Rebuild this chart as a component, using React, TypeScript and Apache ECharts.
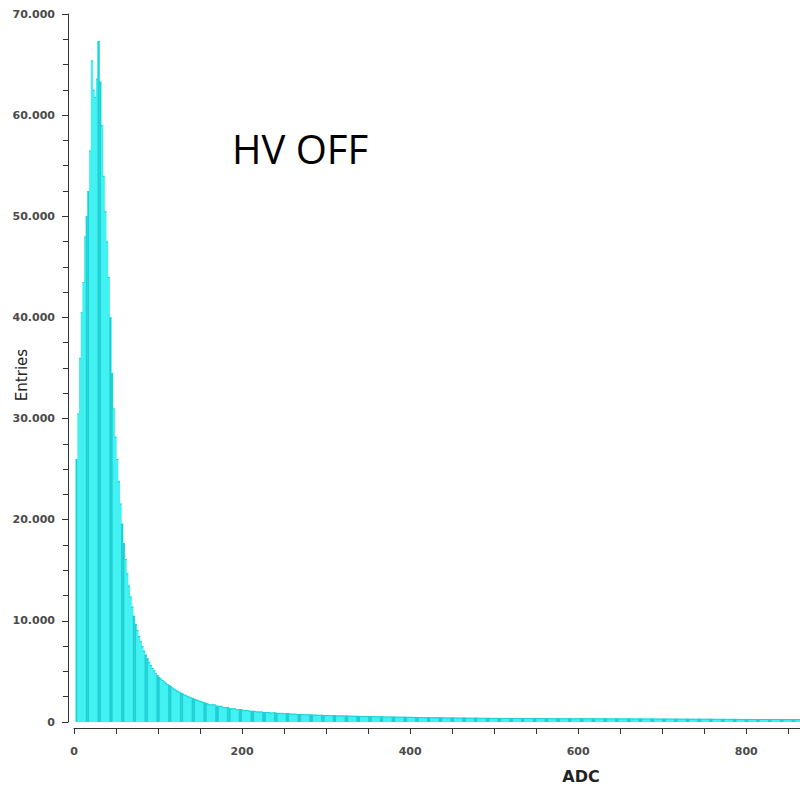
import React, { useEffect, useRef } from "react";
import * as echarts from "echarts";

// Histogram of ADC values (HV OFF)
// Fine bins (2 ADC wide) from ADC 0 to 160
const PEAK_START = 0;
const PEAK_BIN_WIDTH = 2;
const PEAK_VALUES = [
  0, 26000, 30500, 36000, 40500, 43500, 48000, 50000, 52500, 56500,
  65400, 62500, 61800, 63600, 67300, 63300, 59000, 54000, 50500, 47500,
  44000, 40000, 34500, 31000, 28200, 26000, 23800, 21600, 19600, 17700,
  16100, 14700, 13500, 12400, 11400, 10500, 9700, 9100, 8500, 8000,
  7500, 7050, 6650, 6300, 5950, 5650, 5350, 5100, 4850, 4650,
  4450, 4300, 4150, 4000, 3880, 3760, 3640, 3520, 3400, 3290,
  3180, 3080, 2980, 2890, 2800, 2720, 2640, 2560, 2490, 2420,
  2350, 2290, 2230, 2170, 2110, 2050, 1990, 1930, 1870, 1810,
];

// Coarser bins (8 ADC wide) from ADC 160 to 864
const TAIL_START = 160;
const TAIL_BIN_WIDTH = 8;
const TAIL_VALUES = [
  1740, 1600, 1460, 1350, 1250, 1170, 1100, 1040, 990, 940,
  900, 860, 820, 790, 760, 730, 710, 690, 670, 650,
  630, 615, 600, 585, 570, 555, 540, 530, 520, 510,
  500, 490, 480, 470, 460, 450, 440, 430, 425, 420,
  415, 410, 405, 400, 395, 390, 390, 385, 380, 380,
  375, 370, 370, 365, 365, 360, 360, 355, 355, 350,
  350, 345, 345, 340, 340, 335, 335, 330, 330, 325,
  325, 320, 320, 315, 315, 310, 310, 305, 305, 300,
  300, 298, 296, 294, 292, 290, 288, 286,
];

const X_MIN = 0;
const X_MAX = 864;
const X_TICK = 50;
const X_LABEL_STEP = 200;
const Y_MIN = 0;
const Y_MAX = 70000;
const Y_TICK = 10000;

const TITLE_TEXT = "HV OFF";
const X_NAME = "ADC";
const Y_NAME = "Entries";

function buildBins(): number[][] {
  const bins: number[][] = [];
  PEAK_VALUES.forEach((v, i) => {
    const x0 = PEAK_START + i * PEAK_BIN_WIDTH;
    bins.push([x0, x0 + PEAK_BIN_WIDTH, v]);
  });
  TAIL_VALUES.forEach((v, i) => {
    const x0 = TAIL_START + i * TAIL_BIN_WIDTH;
    bins.push([x0, x0 + TAIL_BIN_WIDTH, v]);
  });
  return bins;
}

const FILL = "#42f2f2";
const STRIPE = "#20cfd3";
const STRIPE_PERIOD = 14; // ADC units (visual striping)
const STRIPE_WIDTH = 4;

export default function App() {
  const ref = useRef<HTMLDivElement>(null);
  useEffect(() => {
    if (!ref.current) return;
    const chart = echarts.init(ref.current, undefined, { renderer: "svg" });
    const bins = buildBins();

    const renderItem = (params: any, api: any) => {
      const x0 = api.value(0);
      const x1 = api.value(1);
      const v = api.value(2);
      if (!v) return { type: "group", children: [] };
      const pTop = api.coord([x0, v]);
      const pBot = api.coord([x1, 0]);
      const w = pBot[0] - pTop[0];
      const h = pBot[1] - pTop[1];
      const children: any[] = [
        {
          type: "rect",
          shape: { x: pTop[0], y: pTop[1], width: w + 0.6, height: h },
          style: { fill: FILL },
        },
      ];
      let s = Math.floor(x0 / STRIPE_PERIOD) * STRIPE_PERIOD;
      for (; s < x1; s += STRIPE_PERIOD) {
        const lo = Math.max(s, x0);
        const hi = Math.min(s + STRIPE_WIDTH, x1);
        if (hi <= lo) continue;
        const a = api.coord([lo, v])[0];
        const b = api.coord([hi, v])[0];
        children.push({
          type: "rect",
          shape: { x: a, y: pTop[1], width: b - a + 0.3, height: h },
          style: { fill: STRIPE },
        });
      }
      children.push({
        type: "rect",
        shape: { x: pTop[0], y: pTop[1], width: w + 0.6, height: Math.min(1, h) },
        style: { fill: STRIPE },
      });
      return { type: "group", children };
    };

    const labelFont = {
      fontFamily: "DejaVu Sans",
      fontWeight: "bold" as const,
      fontSize: 11,
      color: "#4a4a4a",
    };

    chart.setOption({
      animation: false,
      backgroundColor: "#ffffff",
      grid: { left: 74, right: 0, top: 14, bottom: 64, containLabel: false },
      xAxis: {
        type: "value",
        min: X_MIN,
        max: X_MAX,
        interval: X_TICK,
        offset: 6,
        axisLine: { show: true, onZero: false, lineStyle: { color: "#333", width: 1 } },
        axisTick: { show: true, length: 6, lineStyle: { color: "#333" } },
        splitLine: { show: false },
        axisLabel: {
          ...labelFont,
          margin: 18,
          showMaxLabel: false,
          formatter: (val: number) => (val % X_LABEL_STEP === 0 ? String(val) : ""),
        },
      },
      yAxis: {
        type: "value",
        min: Y_MIN,
        max: Y_MAX,
        interval: Y_TICK,
        offset: 6,
        axisLine: { show: true, onZero: false, lineStyle: { color: "#333", width: 1 } },
        axisTick: { show: true, length: 6, lineStyle: { color: "#333" } },
        minorTick: { show: true, splitNumber: 4, length: 5, lineStyle: { color: "#333" } },
        splitLine: { show: false },
        minorSplitLine: { show: false },
        axisLabel: {
          ...labelFont,
          margin: 13,
          formatter: (val: number) => (val === 0 ? "0" : (val / 1000).toFixed(0) + ".000"),
        },
      },
      series: [
        {
          type: "custom",
          renderItem,
          encode: { x: [0, 1], y: 2 },
          data: bins,
          clip: true,
        },
      ],
      graphic: [
        {
          type: "text",
          left: 232,
          top: 128,
          style: {
            text: TITLE_TEXT,
            fontFamily: "Open Sans",
            fontSize: 40,
            fill: "#000",
          },
        },
        {
          type: "text",
          x: 22,
          y: 375,
          rotation: Math.PI / 2,
          style: {
            text: Y_NAME,
            fontFamily: "DejaVu Sans",
            fontSize: 15,
            fill: "#222",
            align: "center",
            verticalAlign: "middle",
          },
        },
        {
          type: "text",
          x: 581,
          y: 776,
          style: {
            text: X_NAME,
            fontFamily: "DejaVu Sans",
            fontWeight: "bold",
            fontSize: 16,
            fill: "#222",
            align: "center",
            verticalAlign: "middle",
          },
        },
      ],
    });
    return () => chart.dispose();
  }, []);
  return (
    <div
      ref={ref}
      style={{ position: "absolute", left: 0, top: 0, width: 800, height: 786 }}
    />
  );
}
